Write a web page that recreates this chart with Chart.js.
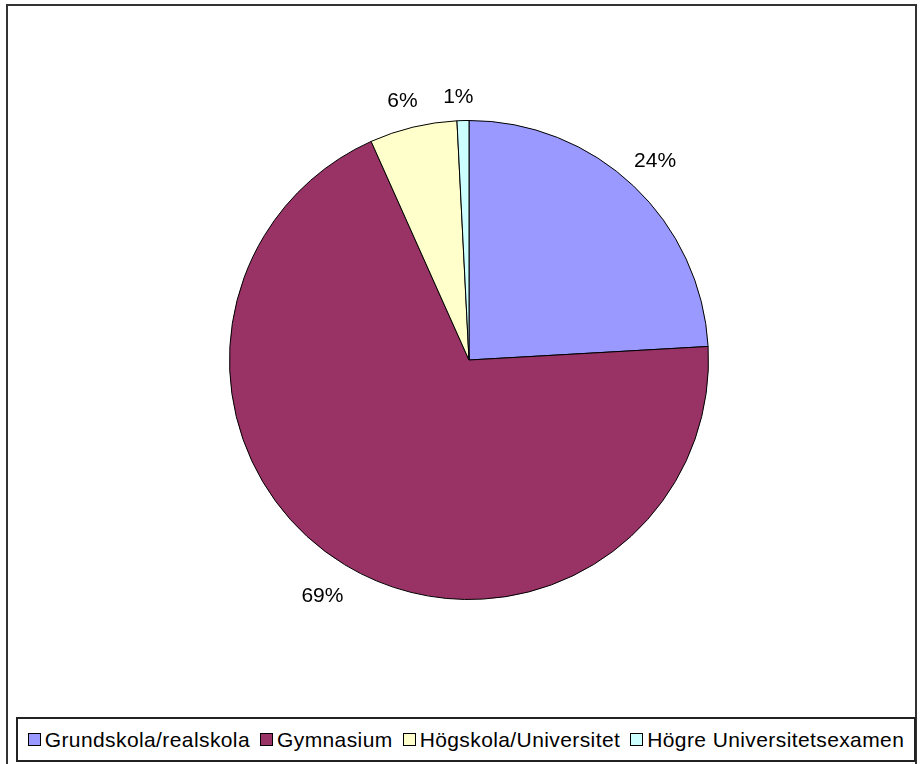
<!DOCTYPE html>
<html>
<head>
<meta charset="utf-8">
<script src="https://cdn.jsdelivr.net/npm/chart.js@4/dist/chart.umd.min.js"></script>
<style>
  html, body { margin: 0; padding: 0; background: #fff; }
  #wrap { position: relative; width: 921px; height: 764px; overflow: hidden; }
  #frame {
    position: absolute; left: 6px; top: 4px; width: 911px; height: 780px;
    border: 2px solid #333; box-sizing: border-box;
  }
  #chart { position: absolute; left: 0; top: 0; }
  #legend {
    position: absolute; left: 16px; top: 717px; width: 900px; height: 45px;
    border: 2px solid #222; box-sizing: border-box; background: #fff;
    display: flex; align-items: center; justify-content: center;
    font-family: "Liberation Sans", Arial, sans-serif; font-size: 21px; color: #000;
    letter-spacing: 0.4px; white-space: nowrap;
  }
  .item { display: flex; align-items: center; margin: 0 5px; }
  .swatch { width: 13px; height: 13px; border: 1px solid #000; box-sizing: border-box; margin-right: 4px; }
</style>
</head>
<body>
<div id="wrap">
  <div id="frame"></div>
  <canvas id="chart" width="921" height="764"></canvas>
  <div id="legend"></div>
</div>
<script>
// Utbildningsnivå, andel i procent
const labels = ['Grundskola/realskola', 'Gymnasium', 'Högskola/Universitet', 'Högre Universitetsexamen'];
const values = [24.1, 69.2, 5.9, 0.8];
const colors = ['#9999FF', '#993366', '#FFFFCC', '#CCFFFF'];

// percentage labels outside each slice
const pctLabels = {
    id: 'pctLabels',
    afterDatasetsDraw(chart) {
        const ctx = chart.ctx;
        const meta = chart.getDatasetMeta(0);
        const total = values.reduce((a, b) => a + b, 0);
        ctx.save();
        ctx.font = '21px "Liberation Sans", Arial, sans-serif';
        ctx.fillStyle = '#000';
        ctx.textAlign = 'center';
        ctx.textBaseline = 'middle';
        meta.data.forEach((arc, i) => {
            const mid = (arc.startAngle + arc.endAngle) / 2;
            const dx = Math.cos(mid), dy = Math.sin(mid);
            const txt = Math.round(values[i] / total * 100) + '%';
            const w = ctx.measureText(txt).width;
            const r = arc.outerRadius + 17 + Math.abs(dx) * w / 2 + Math.abs(dy) * 8;
            ctx.fillText(txt, arc.x + dx * r - 4, arc.y + dy * r + 2);
        });
        ctx.restore();
    }
};

const chart = new Chart(document.getElementById('chart'), {
    type: 'pie',
    data: {
        labels: labels,
        datasets: [{
            data: values,
            backgroundColor: colors,
            borderColor: '#000',
            borderWidth: 1
        }]
    },
    options: {
        responsive: false,
        animation: false,
        layout: { padding: { top: 120, bottom: 164, left: 17, right: 0 } },
        plugins: {
            legend: { display: false },
            tooltip: { enabled: false }
        }
    },
    plugins: [pctLabels]
});

// legend built from the same arrays
const legendEl = document.getElementById('legend');
labels.forEach((name, i) => {
    const item = document.createElement('div');
    item.className = 'item';
    const sw = document.createElement('span');
    sw.className = 'swatch';
    sw.style.background = colors[i];
    const tx = document.createElement('span');
    tx.textContent = name;
    item.appendChild(sw);
    item.appendChild(tx);
    legendEl.appendChild(item);
});
</script>
</body>
</html>
